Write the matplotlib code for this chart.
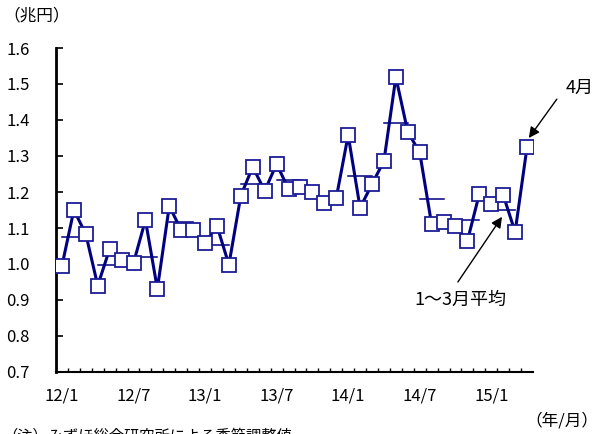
import matplotlib.pyplot as plt
import numpy as np

plt.rcParams['font.family'] = ['Noto Sans CJK JP', 'DejaVu Sans']

# monthly values (trillion yen), 2012/1 - 2015/4
months = [f"{y}/{m}" for y in (12, 13, 14) for m in range(1, 13)] + ["15/1", "15/2", "15/3", "15/4"]
values = [0.995, 1.150, 1.083, 0.940, 1.042, 1.011, 1.003, 1.122, 0.931, 1.161, 1.094, 1.094,
          1.058, 1.106, 0.998, 1.190, 1.270, 1.203, 1.278, 1.208, 1.214, 1.200, 1.169, 1.183,
          1.358, 1.156, 1.222, 1.286, 1.519, 1.367, 1.310, 1.110, 1.118, 1.106, 1.064, 1.195,
          1.167, 1.192, 1.089, 1.325]
tick_labels = ["12/1", "12/7", "13/1", "13/7", "14/1", "14/7", "15/1"]

navy = "#000080"
x = np.arange(len(values))

fig = plt.figure(figsize=(5.98, 4.34), dpi=100)
ax = fig.add_axes([56 / 598, 1 - 372 / 434, (533 - 56) / 598, (372 - 48) / 434])

# quarterly averages (complete quarters only)
n_q = len(values) // 3
for q in range(n_q):
    avg = np.mean(values[q * 3:q * 3 + 3])
    ax.plot([q * 3, q * 3 + 2], [avg, avg], color=navy, lw=1.1, zorder=2)

ax.plot(x, values, color=navy, lw=2.2, marker="s", ms=9.5,
        mfc="white", mec="#1c1c96", mew=1.3, zorder=3)

ax.set_xlim(-0.5, len(values) - 0.5)
ax.set_ylim(0.7, 1.6)
ax.set_yticks(np.arange(0.7, 1.61, 0.1))
ax.set_yticklabels([f"{v:.1f}" for v in np.arange(0.7, 1.61, 0.1)])
ax.set_xticks([months.index(t) for t in tick_labels])
ax.set_xticklabels(tick_labels)
ax.set_xticks(np.arange(0.5, len(values) - 0.5, 1), minor=True)

ax.tick_params(axis="x", which="major", length=0, pad=11, labelsize=12)
ax.tick_params(axis="x", which="minor", direction="in", length=3, width=1)
ax.tick_params(axis="y", direction="in", length=5, width=1.2, pad=19, labelsize=12)

for s in ("top", "right"):
    ax.spines[s].set_visible(False)
ax.spines["left"].set_linewidth(2)
ax.spines["bottom"].set_linewidth(1.5)

fig.text(3 / 598, 1 - 16 / 434, "（兆円）", fontsize=12, va="center", ha="left")
fig.text(598 / 598, 1 - 421 / 434, "（年/月）", fontsize=12, va="center", ha="right")
fig.text(2 / 598, 1 - 428 / 434, "（注）みずほ総合研究所による季節調整値", fontsize=11, va="top", ha="left")

# annotations
arrow = dict(arrowstyle="-|>", color="black", lw=1, mutation_scale=16, shrinkA=0, shrinkB=0)
ax.text(43.4, 1.49, "4月", fontsize=13, ha="center", va="center", clip_on=False)
ax.annotate("", xy=(39.15, 1.35), xytext=(41.5, 1.458), arrowprops=arrow, annotation_clip=False)
ax.text(33.4, 0.9, "1～3月平均", fontsize=13, ha="center", va="center")
ax.annotate("", xy=(36.9, 1.131), xytext=(33.2, 0.95), arrowprops=arrow)

fig.savefig("out.png", dpi=100)
